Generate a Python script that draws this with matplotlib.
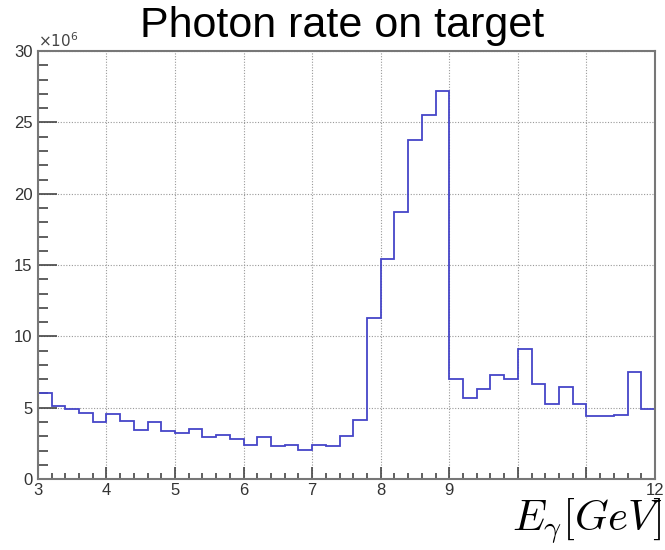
import numpy as np
import matplotlib.pyplot as plt
from matplotlib.ticker import MultipleLocator

# 数据 (单位: 10^6)
bin_edges = np.linspace(3.0, 12.0, 46)  # 45 bins, 0.2 GeV
rate = [6.0, 5.14, 4.9, 4.6, 3.97, 4.58, 4.09, 3.46, 4.0, 3.39,
        3.25, 3.48, 2.97, 3.1, 2.8, 2.4, 2.94, 2.31, 2.4, 2.03,
        2.4, 2.33, 3.04, 4.11, 11.3, 15.4, 18.7, 23.75, 25.5, 27.2,
        6.98, 5.68, 6.33, 7.29, 6.98, 9.11, 6.63, 5.26, 6.47, 5.28,
        4.39, 4.39, 4.46, 7.48, 4.9]
x_ticks = [3, 4, 5, 6, 7, 8, 9, 10, 11, 12]
x_labels = ['3', '4', '5', '6', '7', '8', '9', '', '', '12']  # 10, 11 被标题遮住

plt.rcParams['font.family'] = ['Liberation Sans', 'DejaVu Sans']
plt.rcParams['mathtext.fontset'] = 'cm'

fig = plt.figure(figsize=(6.65, 5.5), dpi=100)
ax = fig.add_axes([0.057, 0.129, 0.928, 0.778])

# 直方图
ax.stairs(rate, bin_edges, color='#4545c8', linewidth=1.3)

ax.set_xlim(3, 12)
ax.set_ylim(0, 30)

# ROOT 风格刻度
ax.set_xticks(x_ticks)
ax.set_xticklabels(x_labels)
ax.xaxis.set_minor_locator(MultipleLocator(0.2))
ax.yaxis.set_major_locator(MultipleLocator(5))
ax.yaxis.set_minor_locator(MultipleLocator(1))
ax.tick_params(axis='both', which='both', direction='in', colors='#444444',
               labelcolor='#333333', labelsize=12, width=1.2)
ax.tick_params(axis='y', which='major', length=14, pad=4)
ax.tick_params(axis='y', which='minor', length=7)
ax.tick_params(axis='x', which='major', length=9, pad=3)
ax.tick_params(axis='x', which='minor', length=4.5)

for s in ax.spines.values():
    s.set_color('#777777')
    s.set_linewidth(1.5)

ax.grid(True, which='major', linestyle=(0, (1, 1.5)), color='#999999', linewidth=0.8)
ax.set_axisbelow(True)

# 文本
ax.text(0.0, 1.003, r'$\times 10^{6}$', transform=ax.transAxes, fontsize=11,
        color='#444444', ha='left', va='bottom', math_fontfamily='dejavusans')
fig.text(0.515, 0.953, 'Photon rate on target', fontsize=31, ha='center', va='center')
fig.text(0.997, 0.008, r'$E_{\gamma}[GeV]$', fontsize=31, ha='right', va='bottom')

plt.savefig('out.png', dpi=100)
